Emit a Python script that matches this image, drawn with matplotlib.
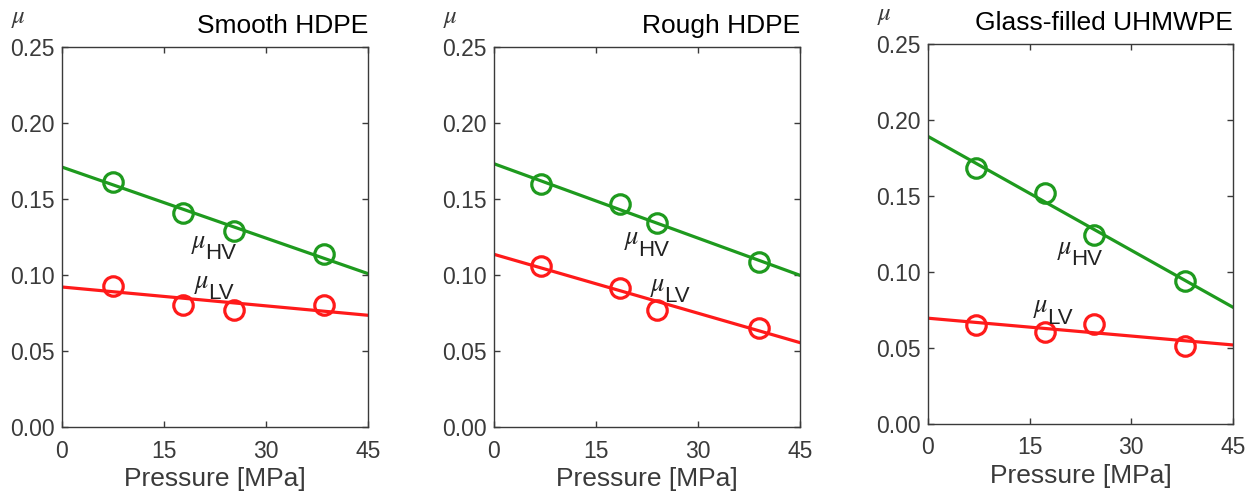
import matplotlib
matplotlib.use("Agg")
import matplotlib.pyplot as plt
import numpy as np

plt.rcParams['font.family'] = ['Liberation Sans', 'DejaVu Sans']
plt.rcParams['mathtext.fontset'] = 'stix'

titles = ["Smooth HDPE", "Rough HDPE", "Glass-filled UHMWPE"]

# measured points
p_smooth = [7.5, 17.8, 25.3, 38.5]
hv_smooth = [0.161, 0.141, 0.129, 0.1135]
lv_smooth = [0.093, 0.0805, 0.077, 0.080]

p_rough = [6.9, 18.5, 24.0, 38.9]
hv_rough = [0.1596, 0.1465, 0.1344, 0.1086]
lv_rough = [0.1059, 0.0917, 0.0772, 0.0651]

p_glass = [7.1, 17.3, 24.5, 37.9]
hv_glass = [0.1683, 0.1519, 0.1245, 0.0944]
lv_glass = [0.0652, 0.0608, 0.0656, 0.0514]

# fitted lines: values at P = 0 and P = 45 MPa
fit_p = [0, 45]
hv_fit_smooth = [0.171, 0.1009]
lv_fit_smooth = [0.0921, 0.0735]
hv_fit_rough = [0.1732, 0.0998]
lv_fit_rough = [0.1136, 0.0555]
hv_fit_glass = [0.1892, 0.0768]
lv_fit_glass = [0.0696, 0.0520]

# label anchor positions (P, mu)
hv_lab = [(19.0, 0.1205), (19.1, 0.1227), (19.1, 0.1145)]
lv_lab = [(19.4, 0.094), (23.0, 0.092), (15.5, 0.076)]

panels = [
    (p_smooth, hv_smooth, lv_smooth, hv_fit_smooth, lv_fit_smooth),
    (p_rough, hv_rough, lv_rough, hv_fit_rough, lv_fit_rough),
    (p_glass, hv_glass, lv_glass, hv_fit_glass, lv_fit_glass),
]

green = '#1e9a1e'
red = '#ff1a1a'
gray = '#3a3a3a'

fig = plt.figure(figsize=(12.55, 4.93), dpi=100)
rects = [
    [62/1255, 66/493, 306/1255, 380/493],
    [494/1255, 66/493, 306/1255, 380/493],
    [928/1255, 69/493, 305/1255, 380/493],
]

for i, (rect, (p, hv, lv, hvf, lvf)) in enumerate(zip(rects, panels)):
    ax = fig.add_axes(rect)
    ax.plot(fit_p, hvf, color=green, lw=2.3, zorder=2)
    ax.plot(fit_p, lvf, color=red, lw=2.3, zorder=2)
    ax.plot(p, hv, 'o', mfc='none', mec=green, mew=2.3, ms=14, zorder=3)
    ax.plot(p, lv, 'o', mfc='none', mec=red, mew=2.3, ms=14, zorder=3)
    ax.set_xlim(0, 45)
    ax.set_ylim(0, 0.25)
    ax.set_xticks([0, 15, 30, 45])
    ax.set_yticks([0, 0.05, 0.10, 0.15, 0.20, 0.25])
    ax.set_yticklabels(['0.00', '0.05', '0.10', '0.15', '0.20', '0.25'])
    ax.tick_params(direction='in', top=True, right=True, length=4, width=1,
                   color=gray, labelcolor=gray, labelsize=16.5)
    ax.tick_params(axis='x', pad=9)
    ax.tick_params(axis='y', pad=5)
    for s in ax.spines.values():
        s.set_color(gray)
        s.set_linewidth(1.0)
    ax.set_xlabel('Pressure [MPa]', fontsize=19, color=gray, labelpad=3)
    ax.set_title(titles[i], loc='right', fontsize=19, pad=10, color='black')
    ax.text(-0.168, 1.045, r'$\mu$', transform=ax.transAxes, fontsize=18,
            color=gray, ha='left', va='bottom')
    for (lx, ly), sub in ((hv_lab[i], 'HV'), (lv_lab[i], 'LV')):
        ax.text(lx, ly, r'$\mu$', fontsize=19, color='#222222', ha='left', va='center')
        ax.annotate(sub, xy=(lx, ly), xytext=(10, -7), textcoords='offset points',
                    fontsize=16, color='#222222', ha='left', va='center')

fig.savefig('out.png', dpi=100)
